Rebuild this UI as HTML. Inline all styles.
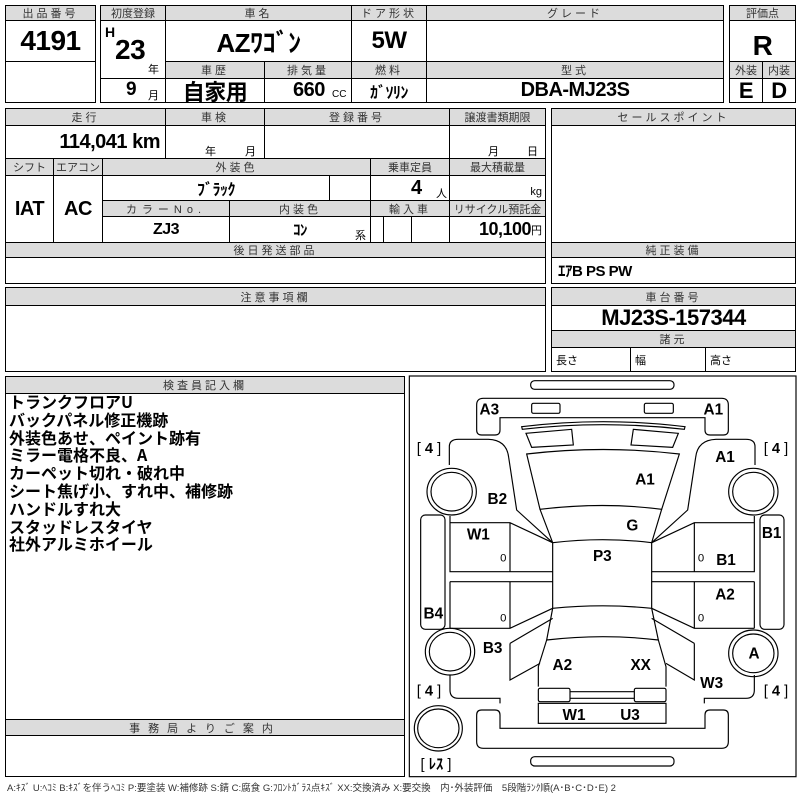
<!DOCTYPE html>
<html><head><meta charset="utf-8">
<style>
*{margin:0;padding:0;box-sizing:border-box}
body{width:800px;height:800px;background:#fff;position:relative;overflow:hidden;font-family:"Liberation Sans","Noto Sans CJK JP",sans-serif;color:#000}
.c{position:absolute;border:1px solid #000;display:flex;align-items:center;justify-content:center;white-space:nowrap}
.h{background:#dcdcdc;color:#333;font-size:11px;letter-spacing:3px}
.v{font-family:"Liberation Sans Narrow","Liberation Sans","Noto Sans CJK JP",sans-serif;font-weight:bold;letter-spacing:-0.5px}
.t{position:absolute;white-space:nowrap}
</style></head><body>
<div class="c h" style="left:5px;top:5px;width:91px;height:16px">出品番号</div>
<div class="c v" style="left:5px;top:20px;width:91px;height:42px;font-size:28px">4191</div>
<div class="c" style="left:5px;top:61px;width:91px;height:42px"></div>
<div class="c h" style="left:100px;top:5px;width:66px;height:16px;letter-spacing:0">初度登録</div>
<div class="c h" style="left:165px;top:5px;width:187px;height:16px">車名</div>
<div class="c h" style="left:351px;top:5px;width:76px;height:16px">ドア形状</div>
<div class="c h" style="left:426px;top:5px;width:298px;height:16px">グレード</div>
<div class="c" style="left:100px;top:20px;width:66px;height:59px"></div>
<div class="t v" style="left:105px;top:24px;font-size:14px">H</div>
<div class="t v" style="left:115px;top:34px;font-size:28px">23</div>
<div class="t" style="left:148px;top:61px;font-size:11px">年</div>
<div class="c v" style="left:165px;top:20px;width:187px;height:42px;font-size:26px">AZﾜｺﾞﾝ</div>
<div class="c v" style="left:351px;top:20px;width:76px;height:42px;font-size:24px">5W</div>
<div class="c" style="left:426px;top:20px;width:298px;height:42px"></div>
<div class="c h" style="left:165px;top:61px;width:100px;height:18px">車歴</div>
<div class="c h" style="left:264px;top:61px;width:88px;height:18px">排気量</div>
<div class="c h" style="left:351px;top:61px;width:76px;height:18px">燃料</div>
<div class="c h" style="left:426px;top:61px;width:298px;height:18px">型式</div>
<div class="c" style="left:100px;top:78px;width:66px;height:25px"></div>
<div class="t v" style="left:126px;top:79px;font-size:19px">9</div>
<div class="t" style="left:148px;top:87px;font-size:11px">月</div>
<div class="c v" style="left:165px;top:78px;width:100px;height:25px;font-size:22px">自家用</div>
<div class="c" style="left:264px;top:78px;width:88px;height:25px"></div>
<div class="t v" style="left:293px;top:79px;font-size:20px">660</div>
<div class="t" style="left:332px;top:89px;font-size:10px">CC</div>
<div class="c v" style="left:351px;top:78px;width:76px;height:25px;font-size:16px">ｶﾞｿﾘﾝ</div>
<div class="c v" style="left:426px;top:78px;width:298px;height:25px;font-size:20px">DBA-MJ23S</div>
<div class="c h" style="left:729px;top:5px;width:67px;height:16px;letter-spacing:0">評価点</div>
<div class="c v" style="left:729px;top:20px;width:67px;height:42px;font-size:28px;padding-top:10px">R</div>
<div class="c h" style="left:729px;top:61px;width:34px;height:18px;letter-spacing:0">外装</div>
<div class="c h" style="left:762px;top:61px;width:34px;height:18px;letter-spacing:0">内装</div>
<div class="c v" style="left:729px;top:78px;width:34px;height:25px;font-size:22px">E</div>
<div class="c v" style="left:762px;top:78px;width:34px;height:25px;font-size:22px">D</div>
<div class="c h" style="left:5px;top:108px;width:161px;height:18px">走行</div>
<div class="c h" style="left:165px;top:108px;width:100px;height:18px">車検</div>
<div class="c h" style="left:264px;top:108px;width:186px;height:18px">登録番号</div>
<div class="c h" style="left:449px;top:108px;width:97px;height:18px;letter-spacing:0">譲渡書類期限</div>
<div class="c v" style="left:5px;top:125px;width:161px;height:34px;font-size:20px;justify-content:flex-end;padding-right:5px">114,041 km</div>
<div class="c" style="left:165px;top:125px;width:100px;height:34px"></div>
<div class="t" style="left:205px;top:143px;font-size:11px">年</div>
<div class="t" style="left:245px;top:143px;font-size:11px">月</div>
<div class="c" style="left:264px;top:125px;width:186px;height:34px"></div>
<div class="c" style="left:449px;top:125px;width:97px;height:34px"></div>
<div class="t" style="left:488px;top:143px;font-size:11px">月</div>
<div class="t" style="left:527px;top:143px;font-size:11px">日</div>
<div class="c h" style="left:5px;top:158px;width:49px;height:18px;letter-spacing:0">シフト</div>
<div class="c h" style="left:53px;top:158px;width:50px;height:18px;letter-spacing:0">エアコン</div>
<div class="c h" style="left:102px;top:158px;width:269px;height:18px">外装色</div>
<div class="c h" style="left:370px;top:158px;width:80px;height:18px;letter-spacing:0">乗車定員</div>
<div class="c h" style="left:449px;top:158px;width:97px;height:18px;letter-spacing:0">最大積載量</div>
<div class="c v" style="left:5px;top:175px;width:49px;height:68px;font-size:20px">IAT</div>
<div class="c v" style="left:53px;top:175px;width:50px;height:68px;font-size:20px">AC</div>
<div class="c v" style="left:102px;top:175px;width:228px;height:26px;font-size:16px">ﾌﾞﾗｯｸ</div>
<div class="c" style="left:329px;top:175px;width:42px;height:26px"></div>
<div class="c" style="left:370px;top:175px;width:80px;height:26px"></div>
<div class="t v" style="left:411px;top:177px;font-size:20px">4</div>
<div class="t" style="left:436px;top:185px;font-size:11px">人</div>
<div class="c" style="left:449px;top:175px;width:97px;height:26px;justify-content:flex-end;padding-right:3px;padding-top:8px;font-size:11px">kg</div>
<div class="c h" style="left:102px;top:200px;width:128px;height:17px;letter-spacing:5px">カラーNo.</div>
<div class="c h" style="left:229px;top:200px;width:142px;height:17px">内装色</div>
<div class="c h" style="left:370px;top:200px;width:80px;height:17px">輸入車</div>
<div class="c h" style="left:449px;top:200px;width:97px;height:17px;letter-spacing:0">リサイクル預託金</div>
<div class="c v" style="left:102px;top:216px;width:128px;height:27px;font-size:16px">ZJ3</div>
<div class="c v" style="left:229px;top:216px;width:142px;height:27px;font-size:15px">ｺﾝ</div>
<div class="t" style="left:355px;top:227px;font-size:11px">系</div>
<div class="c" style="left:370px;top:216px;width:14px;height:27px"></div>
<div class="c" style="left:383px;top:216px;width:29px;height:27px"></div>
<div class="c" style="left:411px;top:216px;width:39px;height:27px"></div>
<div class="c" style="left:449px;top:216px;width:97px;height:27px;justify-content:flex-end;padding-right:3px"><span class="v" style="font-size:18px">10,100</span><span style="font-size:11px">円</span></div>
<div class="c h" style="left:551px;top:108px;width:245px;height:18px">セールスポイント</div>
<div class="c" style="left:551px;top:125px;width:245px;height:118px"></div>
<div class="c h" style="left:5px;top:242px;width:541px;height:16px">後日発送部品</div>
<div class="c" style="left:5px;top:257px;width:541px;height:27px"></div>
<div class="c h" style="left:551px;top:242px;width:245px;height:16px">純正装備</div>
<div class="c v" style="left:551px;top:257px;width:245px;height:27px;font-size:15px;justify-content:flex-start;padding-left:6px">ｴｱB PS PW</div>
<div class="c h" style="left:5px;top:287px;width:541px;height:19px">注意事項欄</div>
<div class="c" style="left:5px;top:305px;width:541px;height:67px"></div>
<div class="c h" style="left:551px;top:287px;width:245px;height:19px">車台番号</div>
<div class="c v" style="left:551px;top:305px;width:245px;height:26px;font-size:22px">MJ23S-157344</div>
<div class="c h" style="left:551px;top:330px;width:245px;height:18px">諸元</div>
<div class="c" style="left:551px;top:347px;width:80px;height:25px;justify-content:flex-start;padding-left:4px;font-size:11px">長さ</div>
<div class="c" style="left:630px;top:347px;width:76px;height:25px;justify-content:flex-start;padding-left:4px;font-size:11px">幅</div>
<div class="c" style="left:705px;top:347px;width:91px;height:25px;justify-content:flex-start;padding-left:4px;font-size:11px">高さ</div>
<div class="c h" style="left:5px;top:376px;width:400px;height:18px">検査員記入欄</div>
<div class="c" style="left:5px;top:393px;width:400px;height:327px"></div>
<div class="t" style="left:9px;top:393px;font-size:16px;font-weight:bold;line-height:17.8px;font-family:'Noto Sans CJK JP',sans-serif">トランクフロアU<br>バックパネル修正機跡<br>外装色あせ、ペイント跡有<br>ミラー電格不良、A<br>カーペット切れ・破れ中<br>シート焦げ小、すれ中、補修跡<br>ハンドルすれ大<br>スタッドレスタイヤ<br>社外アルミホイール</div>
<div class="c h" style="left:5px;top:719px;width:400px;height:17px;letter-spacing:8px">事務局よりご案内</div>
<div class="c" style="left:5px;top:735px;width:400px;height:42px"></div>
<div class="t" style="left:7px;top:780px;font-size:9.5px;color:#333">A:ｷｽﾞ U:ﾍｺﾐ B:ｷｽﾞを伴うﾍｺﾐ P:要塗装 W:補修跡 S:錆 C:腐食 G:ﾌﾛﾝﾄｶﾞﾗｽ点ｷｽﾞ XX:交換済み X:要交換　内･外装評価　5段階ﾗﾝｸ順(A･B･C･D･E) 2</div>
<svg style="position:absolute;left:400px;top:370px" width="400" height="430" viewBox="0 0 1200 1290">
<g fill="none" stroke="#000" stroke-width="3.5">
<rect x="28" y="18" width="1160" height="1202"/>
<rect x="392" y="32" width="430" height="26" rx="12"/>
<path d="M230,105 Q230,85 250,85 H965 Q985,85 985,105 V180 Q985,195 970,195 H930 Q915,195 915,180 V143 H300 V180 Q300,195 285,195 H245 Q230,195 230,180 Z"/>
<rect x="395" y="100" width="85" height="30" rx="5"/>
<rect x="733" y="100" width="87" height="30" rx="5"/>
<path d="M365,170 Q610,140 855,170 L853,178 Q610,150 367,178 Z"/>
<path d="M378,190 L515,178 L520,225 L395,232 Z"/>
<path d="M700,178 L835,190 L818,232 L693,225 Z"/>
<path d="M380,252 Q610,225 838,252 L785,418 Q610,395 420,418 Z"/>
<path d="M420,418 L458,518 Q610,500 755,518 L785,418"/>
<path d="M458,518 V715 M755,518 V715"/>
<path d="M458,715 Q610,700 755,715 L775,810 Q610,790 440,810 Z"/>
<path d="M440,810 L415,890 V950 M775,810 L798,890 V950"/>
<rect x="415" y="955" width="95" height="40" rx="5"/>
<rect x="703" y="955" width="95" height="40" rx="5"/>
<path d="M510,965 H703 M510,985 H703"/>
<rect x="415" y="1000" width="383" height="60"/>
<path d="M230,1035 Q230,1020 245,1020 H285 Q300,1020 300,1035 V1075 H915 V1035 Q915,1020 930,1020 H970 Q985,1020 985,1035 V1115 Q985,1135 965,1135 H250 Q230,1135 230,1115 Z"/>
<rect x="392" y="1160" width="430" height="28" rx="12"/>
<path d="M148,285 V230 Q148,208 175,208 H265 Q320,210 326,262 L350,420 L458,518"/>
<path d="M1065,285 V230 Q1065,208 1038,208 H948 Q893,210 887,262 L863,420 L755,518"/>
<path d="M150,438 V605 H458 M150,635 H458 M150,635 V775"/>
<path d="M150,458 H330 L458,518 M330,458 V605 M330,635 V775 M150,775 H330 L458,715"/>
<path d="M1063,438 V605 H755 M1063,635 H755 M1063,635 V775"/>
<path d="M1063,458 H883 L755,518 M883,458 V605 M883,635 V775 M1063,775 H883 L755,715"/>
<path d="M330,820 L458,745 M330,820 V930 L420,880"/>
<path d="M883,820 L755,745 M883,820 V930 L798,880"/>
<path d="M150,915 V960 Q150,985 175,985 H300 V1000"/>
<path d="M1063,915 V960 Q1063,985 1038,985 H913 V1000"/>
<rect x="62" y="435" width="73" height="343" rx="14"/>
<rect x="1080" y="435" width="72" height="343" rx="14"/>
<ellipse cx="155" cy="365" rx="74" ry="70"/><ellipse cx="155" cy="365" rx="62" ry="58"/>
<ellipse cx="150" cy="845" rx="74" ry="70"/><ellipse cx="150" cy="845" rx="62" ry="58"/>
<ellipse cx="1060" cy="365" rx="74" ry="70"/><ellipse cx="1060" cy="365" rx="62" ry="58"/>
<ellipse cx="1060" cy="850" rx="74" ry="70"/><ellipse cx="1060" cy="850" rx="62" ry="58"/>
<ellipse cx="115" cy="1075" rx="72" ry="68"/><ellipse cx="115" cy="1075" rx="62" ry="58"/>
</g>
<g font-family="Liberation Sans,sans-serif" font-weight="bold" font-size="46" text-anchor="middle" dominant-baseline="central">
<text x="268" y="120">A3</text><text x="940" y="120">A1</text>
<text x="975" y="262">A1</text><text x="735" y="330">A1</text>
<text x="292" y="388">B2</text><text x="697" y="468">G</text>
<text x="1115" y="490">B1</text><text x="235" y="495">W1</text>
<text x="607" y="560">P3</text><text x="978" y="572">B1</text>
<text x="975" y="675">A2</text><text x="100" y="732">B4</text>
<text x="278" y="835">B3</text><text x="1062" y="852">A</text>
<text x="487" y="886">A2</text><text x="722" y="886">XX</text>
<text x="935" y="940">W3</text>
<text x="522" y="1037">W1</text><text x="690" y="1037">U3</text>
</g>
<g font-family="Liberation Sans,sans-serif" font-size="34" text-anchor="middle" dominant-baseline="central">
<text x="310" y="565">0</text><text x="903" y="565">0</text>
<text x="310" y="745">0</text><text x="903" y="745">0</text>
</g>
<g font-family="Liberation Sans,'Noto Sans CJK JP',sans-serif" font-size="44" text-anchor="middle" dominant-baseline="central">
<text x="87" y="237">[ <tspan font-weight="bold">4</tspan> ]</text>
<text x="1128" y="237">[ <tspan font-weight="bold">4</tspan> ]</text>
<text x="87" y="965">[ <tspan font-weight="bold">4</tspan> ]</text>
<text x="1128" y="965">[ <tspan font-weight="bold">4</tspan> ]</text>
<text x="108" y="1185">[ <tspan font-weight="bold">ﾚｽ</tspan> ]</text>
</g>
</svg>
</body></html>
